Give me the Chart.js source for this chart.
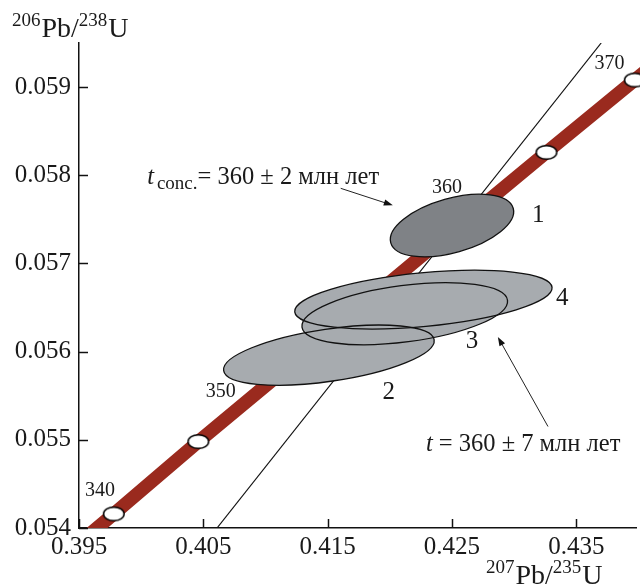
<!DOCTYPE html>
<html><head><meta charset="utf-8">
<script src="https://cdn.jsdelivr.net/npm/chart.js@4.4.0/dist/chart.umd.min.js"></script>
<style>html,body{margin:0;padding:0;background:#fff;}canvas{display:block;}</style>
</head><body>
<canvas id="c" width="640" height="586"></canvas>
<script>
// ---- data ----
const concordiaAges = [335, 340, 345, 350, 355, 360, 365, 370, 375];
const concordiaX = [0.3909, 0.3978, 0.4046, 0.4116, 0.4185, 0.4255, 0.4326, 0.4397, 0.4468];
const concordiaY = [0.05334, 0.05416, 0.05498, 0.05580, 0.05661, 0.05743, 0.05826, 0.05908, 0.05990];
const markerAges = [340, 345, 350, 355, 360, 365, 370];
const ageLabels = ['340', '350', '360', '370'];
const ageLabelX = [0.39669, 0.40641, 0.42460, 0.43766];
const ageLabelY = [0.054420, 0.055545, 0.057864, 0.059261];

const discordiaX = [0.4061, 0.4370];
const discordiaY = [0.0540, 0.0595];

const ellipseNames = ['1', '2', '3', '4'];
const ellipseCX = [0.4250, 0.4151, 0.4212, 0.4227];
const ellipseCY = [0.05743, 0.05596, 0.05643, 0.05659];
const ellipseHalfX = [0.00496, 0.00847, 0.00827, 0.01035];
const ellipseHalfY = [0.000355, 0.000341, 0.000352, 0.000333];
const ellipseRho = [0.45, 0.48, 0.40, 0.40];
const ellipseLabelX = [0.43194, 0.41992, 0.42661, 0.43387];
const ellipseLabelY = [0.057545, 0.055534, 0.056114, 0.056602];

const xTicks = [0.395, 0.405, 0.415, 0.425, 0.435];
const yTicks = [0.054, 0.055, 0.056, 0.057, 0.058, 0.059];

// annotation anchors (data units)
const noteConc = {x: 0.40048, y: 0.057898, arrowFrom: [0.41605, 0.057852], arrowTo: [0.42024, 0.057659]};
const noteAll = {x: 0.42290, y: 0.054875, arrowFrom: [0.43272, 0.055151], arrowTo: [0.42869, 0.056167]};

const FONT = '"Liberation Serif", "Times New Roman", serif';
const TEXT = '#1a1a1a';

function markerImage() {
  const c = document.createElement('canvas'); c.width = 24; c.height = 17;
  const g = c.getContext('2d');
  g.beginPath(); g.ellipse(12, 8.5, 10.3, 6.8, 0, 0, Math.PI * 2);
  g.fillStyle = '#fff'; g.fill(); g.lineWidth = 1.5; g.strokeStyle = '#000'; g.stroke();
  return c;
}

function arrow(ctx, x1, y1, x2, y2) {
  const ang = Math.atan2(y2 - y1, x2 - x1), L = 9, W = 3.2;
  ctx.save();
  ctx.strokeStyle = '#222'; ctx.fillStyle = '#111'; ctx.lineWidth = 1;
  ctx.beginPath(); ctx.moveTo(x1, y1);
  ctx.lineTo(x2 - Math.cos(ang) * L * 0.8, y2 - Math.sin(ang) * L * 0.8); ctx.stroke();
  ctx.beginPath(); ctx.moveTo(x2, y2);
  ctx.lineTo(x2 - Math.cos(ang) * L - Math.sin(ang) * W, y2 - Math.sin(ang) * L + Math.cos(ang) * W);
  ctx.lineTo(x2 - Math.cos(ang) * L + Math.sin(ang) * W, y2 - Math.sin(ang) * L - Math.cos(ang) * W);
  ctx.closePath(); ctx.fill();
  ctx.restore();
}

const overlay = {
  id: 'overlay',
  afterDatasetsDraw(chart) {
    const {ctx, scales: {x, y}} = chart;
    const shapes = ellipseCX.map((cx, i) => {
      const px = x.getPixelForValue(cx), py = y.getPixelForValue(ellipseCY[i]);
      const a = Math.abs(x.getPixelForValue(cx + ellipseHalfX[i]) - px);
      const b = Math.abs(y.getPixelForValue(ellipseCY[i] + ellipseHalfY[i]) - py);
      const c = -ellipseRho[i] * a * b;
      const m = (a * a + b * b) / 2, d = (a * a - b * b) / 2, r = Math.sqrt(d * d + c * c);
      const theta = 0.5 * Math.atan2(2 * c, a * a - b * b);
      return {px, py, r1: Math.sqrt(m + r), r2: Math.sqrt(Math.max(m - r, 0.01)), theta};
    });
    const path = s => { ctx.beginPath(); ctx.ellipse(s.px, s.py, s.r1, s.r2, s.theta, 0, Math.PI * 2); };
    ctx.save();
    [1, 3, 2].forEach(i => { path(shapes[i]); ctx.fillStyle = '#a7abaf'; ctx.fill(); });
    ctx.lineWidth = 1.3; ctx.strokeStyle = '#111';
    [1, 3, 2].forEach(i => { path(shapes[i]); ctx.stroke(); });
    path(shapes[0]); ctx.fillStyle = '#7f8286'; ctx.fill(); ctx.stroke();
    ctx.restore();
  },
  afterDraw(chart) {
    const {ctx, scales: {x, y}, chartArea} = chart;
    ctx.save();
    ctx.strokeStyle = '#111'; ctx.lineWidth = 1.5;
    xTicks.forEach(v => { const px = Math.round(x.getPixelForValue(v)) + 0.5; ctx.beginPath(); ctx.moveTo(px, chartArea.bottom); ctx.lineTo(px, chartArea.bottom - 9); ctx.stroke(); });
    yTicks.forEach(v => { const py = Math.round(y.getPixelForValue(v)) + 0.5; ctx.beginPath(); ctx.moveTo(chartArea.left, py); ctx.lineTo(chartArea.left + 9, py); ctx.stroke(); });

    ctx.fillStyle = TEXT;
    ctx.textAlign = 'center'; ctx.textBaseline = 'middle';
    ctx.font = `20px ${FONT}`;
    ageLabels.forEach((t, i) => ctx.fillText(t, x.getPixelForValue(ageLabelX[i]), y.getPixelForValue(ageLabelY[i])));
    ctx.font = `25px ${FONT}`;
    ellipseNames.forEach((t, i) => ctx.fillText(t, x.getPixelForValue(ellipseLabelX[i]), y.getPixelForValue(ellipseLabelY[i])));

    ctx.textAlign = 'left'; ctx.textBaseline = 'alphabetic';
    let px = x.getPixelForValue(noteConc.x), py = y.getPixelForValue(noteConc.y);
    ctx.font = `italic 24.5px ${FONT}`; ctx.fillText('t', px, py); px += ctx.measureText('t').width + 3;
    ctx.font = `19px ${FONT}`; ctx.fillText('conc.', px, py + 5); px += ctx.measureText('conc.').width;
    ctx.font = `24.5px ${FONT}`; ctx.fillText('= 360 ± 2 млн лет', px, py);
    arrow(ctx, x.getPixelForValue(noteConc.arrowFrom[0]), y.getPixelForValue(noteConc.arrowFrom[1]),
      x.getPixelForValue(noteConc.arrowTo[0]), y.getPixelForValue(noteConc.arrowTo[1]));

    px = x.getPixelForValue(noteAll.x); py = y.getPixelForValue(noteAll.y);
    ctx.font = `italic 24.5px ${FONT}`; ctx.fillText('t', px, py); px += ctx.measureText('t').width;
    ctx.font = `24.5px ${FONT}`; ctx.fillText(' = 360 ± 7 млн лет', px, py);
    arrow(ctx, x.getPixelForValue(noteAll.arrowFrom[0]), y.getPixelForValue(noteAll.arrowFrom[1]),
      x.getPixelForValue(noteAll.arrowTo[0]), y.getPixelForValue(noteAll.arrowTo[1]));

    const title = (sup1, main1, sup2, main2, x0, base) => {
      let cx = x0;
      ctx.font = `19px ${FONT}`; ctx.fillText(sup1, cx, base - 11); cx += ctx.measureText(sup1).width + 1;
      ctx.font = `28px ${FONT}`; ctx.fillText(main1, cx, base); cx += ctx.measureText(main1).width;
      ctx.font = `19px ${FONT}`; ctx.fillText(sup2, cx, base - 11); cx += ctx.measureText(sup2).width + 1;
      ctx.font = `28px ${FONT}`; ctx.fillText(main2, cx, base);
    };
    title('206', 'Pb/', '238', 'U', 12, 37);
    title('207', 'Pb/', '235', 'U', 486, 584);
    ctx.restore();
  }
};

const noClipRight = {left: 0, top: 0, right: false, bottom: 0};
const markerPts = markerAges.map(a => { const i = concordiaAges.indexOf(a); return {x: concordiaX[i], y: concordiaY[i]}; });

new Chart(document.getElementById('c'), {
  type: 'scatter',
  data: {
    datasets: [
      {label: 'markers', data: markerPts, pointStyle: markerImage(), pointRadius: 10, showLine: false, clip: noClipRight},
      {label: 'discordia', data: discordiaX.map((v, i) => ({x: v, y: discordiaY[i]})), showLine: true,
        borderColor: '#111', borderWidth: 1.2, pointRadius: 0, clip: 0},
      {label: 'concordia', data: concordiaX.map((v, i) => ({x: v, y: concordiaY[i]})), showLine: true,
        borderColor: '#9a2a1e', borderWidth: 13.5, pointRadius: 0, clip: noClipRight}
    ]
  },
  options: {
    responsive: false, animation: false, devicePixelRatio: 1,
    layout: {autoPadding: false, padding: {top: 43, right: 4, left: 0, bottom: 0}},
    plugins: {legend: {display: false}, tooltip: {enabled: false}},
    events: [],
    scales: {
      x: {
        type: 'linear', min: 0.395, max: 0.4398,
        grid: {display: false, drawTicks: false},
        border: {display: true, color: '#111', width: 1.5},
        ticks: {font: {family: FONT, size: 25}, color: TEXT, padding: 4, maxRotation: 0, autoSkip: false,
          callback: v => Number(v).toFixed(3)},
        afterBuildTicks: s => { s.ticks = xTicks.map(v => ({value: v})); },
        afterFit: s => { s.height = 58; }
      },
      y: {
        type: 'linear', min: 0.054, max: 0.0595,
        grid: {display: false, drawTicks: false},
        border: {display: true, color: '#111', width: 1.5},
        ticks: {font: {family: FONT, size: 25}, color: TEXT, padding: 8, autoSkip: false,
          callback: v => Number(v).toFixed(3)},
        afterBuildTicks: s => { s.ticks = yTicks.map(v => ({value: v})); },
        afterFit: s => { s.width = 79; }
      }
    }
  },
  plugins: [overlay]
});
</script>
</body></html>
